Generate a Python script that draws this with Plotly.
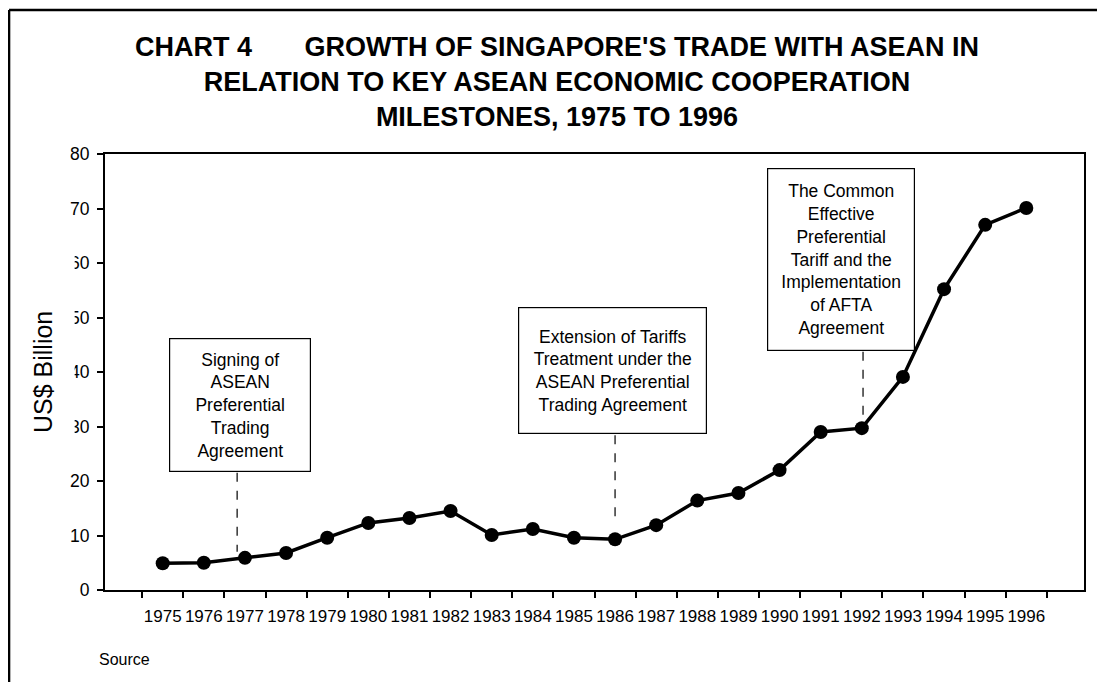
import plotly.graph_objects as go

years = [str(y) for y in range(1975, 1997)]
trade = [4.9, 5.0, 5.9, 6.8, 9.6, 12.3, 13.2, 14.5, 10.1, 11.2,
         9.6, 9.3, 11.9, 16.4, 17.8, 22.0, 29.0, 29.7, 39.1, 55.2, 67.0, 70.1]

title_lines = ["CHART 4\u00a0\u00a0\u00a0\u00a0\u00a0\u00a0\u00a0GROWTH OF SINGAPORE'S TRADE WITH ASEAN IN",
               "RELATION TO KEY ASEAN ECONOMIC COOPERATION",
               "MILESTONES, 1975 TO 1996"]

milestones = [
    # text, box centre x (category index), box centre y, box w, box h, line x, line top, line bottom
    ("Signing of<br>ASEAN<br>Preferential<br>Trading<br>Agreement", 1.88, 34.0, 140, 132, 1.81, 21.5, 7.0),
    ("Extension of Tariffs<br>Treatment under the<br>ASEAN Preferential<br>Trading Agreement", 10.93, 40.2, 187, 125, 11.0, 28.4, 12.5),
    ("The Common<br>Effective<br>Preferential<br>Tariff and the<br>Implementation<br>of AFTA<br>Agreement", 16.49, 60.7, 146, 181, 17.03, 43.7, 31.7),
]

FONT = "Liberation Sans, Arial, sans-serif"

fig = go.Figure()
fig.add_trace(go.Scatter(x=years, y=trade, mode="lines+markers",
                         line=dict(color="black", width=3.5),
                         marker=dict(color="black", size=14),
                         showlegend=False, hoverinfo="skip"))

shapes = []
annotations = []
for text, bx, by, bw, bh, lx, ly0, ly1 in milestones:
    shapes.append(dict(type="line", xref="x", yref="y", x0=lx, x1=lx, y0=ly0, y1=ly1,
                       line=dict(color="black", width=1.2, dash="dash")))
    annotations.append(dict(text=text, x=bx, y=by, xref="x", yref="y", showarrow=False,
                            width=bw, height=bh, align="center", valign="middle",
                            bgcolor="white", bordercolor="black", borderwidth=1.2, borderpad=0,
                            font=dict(family=FONT, size=17.5, color="black")))

# outer chart border (left and top edges visible)
shapes.append(dict(type="line", xref="paper", yref="paper", x0=-0.098, x1=-0.098, y0=1.33, y1=-0.3,
                   line=dict(color="black", width=2.5)))
shapes.append(dict(type="line", xref="paper", yref="paper", x0=-0.098, x1=1.05, y0=1.33, y1=1.33,
                   line=dict(color="black", width=2.5)))
# white patch behind axis title that clips tick labels
shapes.append(dict(type="rect", xref="paper", yref="paper", x0=-0.09, x1=-0.031, y0=0.31, y1=0.80,
                   fillcolor="white", line=dict(width=0), layer="above"))

annotations.append(dict(text="<br>".join(title_lines), x=0.4617, y=1.165, xref="paper", yref="paper",
                        showarrow=False, xanchor="center", yanchor="middle", align="center",
                        font=dict(family=FONT, size=27, color="black", weight="bold")))
annotations.append(dict(text="US$ Billion", x=-0.0633, y=0.5, xref="paper", yref="paper",
                        showarrow=False, textangle=-90, xanchor="center", yanchor="middle",
                        font=dict(family=FONT, size=25, color="black")))
annotations.append(dict(text="Source", x=-0.008, y=-0.16, xref="paper", yref="paper",
                        showarrow=False, xanchor="left", yanchor="middle",
                        font=dict(family=FONT, size=16, color="black")))

fig.update_layout(
    width=1105, height=682,
    margin=dict(l=97, r=29, t=146, b=100, autoexpand=False),
    paper_bgcolor="white", plot_bgcolor="white",
    font=dict(family=FONT, color="black"),
    shapes=shapes, annotations=annotations,
    xaxis=dict(type="category", tickson="boundaries", ticks="outside", ticklen=6, tickangle=0,
               tickcolor="black", tickwidth=1.5, showline=True, linecolor="black", linewidth=2,
               mirror=True, showgrid=False, tickfont=dict(size=17), ticklabelstandoff=10,
               automargin=False),
    yaxis=dict(range=[0, 80], dtick=10, ticks="outside", ticklen=6, tickcolor="black", tickwidth=1.5,
               showline=True, linecolor="black", linewidth=2, mirror=True, showgrid=False,
               zeroline=False, tickfont=dict(size=17.5), ticklabelstandoff=4, automargin=False),
)

fig.write_html("out.html")
